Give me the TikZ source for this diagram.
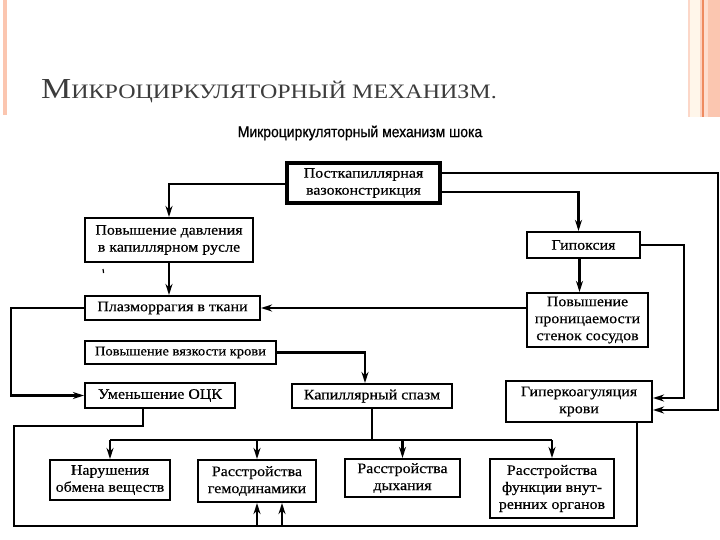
\documentclass[tikz,border=0pt]{standalone}
\usepackage{fontspec}
\setmainfont{Liberation Serif}
\newfontfamily\subfont[FakeStretch=0.9,FakeBold=0.6]{Liberation Sans}
\newfontfamily\boxfont[FakeStretch=1.1,FakeBold=0.4]{Liberation Serif}
\newfontfamily\titlefont[FakeStretch=1.17]{Liberation Serif}
\usetikzlibrary{arrows.meta,calc}
\definecolor{salmon}{HTML}{FBC6B0}
\definecolor{orangeline}{HTML}{EE8A60}
\definecolor{creamband}{HTML}{FFF6EA}
\definecolor{titlegray}{HTML}{3C3C3C}
\tikzset{
  bx/.style={draw=black,line width=2.1pt,rectangle,inner sep=0pt,align=center,
    font=\boxfont\fontsize{14.5}{17}\selectfont},
  thickbx/.style={bx,line width=3.6pt},
  ln/.style={line width=2.1pt},
  arr/.style={ln,-{Stealth[length=11pt,width=7pt]}},
}
\begin{document}
\begin{tikzpicture}[x=1pt,y=-1pt]
\useasboundingbox (0,0) rectangle (720,540);
\fill[white] (0,0) rectangle (720,540);
% header decoration
\fill[salmon] (3,0) rectangle (7,115);
\fill[salmon!70] (688,0) rectangle (690,117);
\fill[creamband] (690,0) rectangle (700,117);
\fill[salmon!80] (700,0) rectangle (702,117);
\fill[orangeline] (702,0) rectangle (703.5,117);
\fill[salmon!60] (703.5,0) rectangle (708,117);
\fill[salmon] (708,0) rectangle (720,117);
% titles
\node[anchor=base west,inner sep=0pt,text=titlegray] (title) at (41,99)
  {\titlefont\fontsize{29}{30}\selectfont М\fontsize{20.5}{22}\selectfont ИКРОЦИРКУЛЯТОРНЫЙ МЕХАНИЗМ.};
\node[inner sep=0pt,font=\subfont\fontsize{15.5}{16}\selectfont] (sub) at (360,133)
  {Микроциркуляторный механизм шока};
% boxes
\node[thickbx,minimum width=153pt,minimum height=40pt] (post) at (363.5,183) {Посткапиллярная\\вазоконстрикция};
\node[bx,minimum width=168pt,minimum height=44pt] (davl) at (169,240) {Повышение давления\\в капиллярном русле};
\node[bx,minimum width=113pt,minimum height=26pt] (gip) at (583.5,245) {Гипоксия};
\node[bx,minimum width=175pt,minimum height=24pt] (plaz) at (172.5,308) {Плазморрагия в ткани};
\node[bx,minimum width=121pt,minimum height=54pt] (pron) at (587.5,320) {Повышение\\проницаемости\\стенок сосудов};
\node[bx,minimum width=191pt,minimum height=23pt,font=\boxfont\fontsize{13.2}{15}\selectfont] (vyaz) at (180.5,352.5) {Повышение вязкости крови};
\node[bx,minimum width=150pt,minimum height=25pt] (ock) at (160,395.5) {Уменьшение ОЦК};
\node[bx,minimum width=160pt,minimum height=24pt] (spazm) at (372,396) {Капиллярный спазм};
\node[bx,minimum width=146pt,minimum height=41pt] (hyper) at (579,401.5) {Гиперкоагуляция\\крови};
\node[bx,minimum width=120pt,minimum height=40pt] (nar) at (110,480) {Нарушения\\обмена веществ};
\node[bx,minimum width=118pt,minimum height=42pt] (gemo) at (257,481) {Расстройства\\гемодинамики};
\node[bx,minimum width=115pt,minimum height=38pt] (dyh) at (402.5,478) {Расстройства\\дыхания};
\node[bx,minimum width=124pt,minimum height=59pt] (func) at (552,488.5) {Расстройства\\функции внут-\\ренних органов};
% stray mark
\coordinate (tick) at (103,269);
\draw[line width=1.2pt] (tick) -- ++(0.6,4);
% connectors
\draw[arr] ([yshift=-1pt]post.west) -| (davl.north);
\draw[arr] ([yshift=10pt]post.east) -- ++(276,0) |- ([yshift=-8.5pt]hyper.east);
\draw[arr] ([yshift=-9pt]post.east) -| ([xshift=-5pt]gip.north);
\draw[arr] (gip.east) -- ++(43,0) |- ([yshift=3.5pt]hyper.east);
\draw[arr] ([xshift=-4pt]gip.south) -- ([xshift=-8pt]pron.north);
\draw[arr] (pron.west |- plaz.east) -- (plaz.east);
\draw[arr] (davl.south) -- (davl.south |- plaz.north);
\draw[arr] (plaz.west) -- ++(-73,0) |- (ock.west);
\draw[arr] (vyaz.east) -| ([xshift=-7pt]spazm.north);
\draw[ln] ([xshift=-17pt]ock.south) -- ++(0,17) -- ++(-129,0) -- ++(0,100) -| ([xshift=58pt]hyper.south);
\draw[arr] ([yshift=-23pt]gemo.south) -- (gemo.south);
\draw[arr] ([xshift=25pt,yshift=-23pt]gemo.south) -- ([xshift=25pt]gemo.south);
\coordinate (bus) at ([yshift=-31pt]spazm.south);
\draw[ln] (spazm.south) -- (bus);
\draw[ln] (bus -| nar.north) -- (bus -| func.north);
\draw[arr] (bus -| nar.north) -- (nar.north);
\draw[arr] (bus -| gemo.north) -- (gemo.north);
\draw[arr] (bus -| dyh.north) -- (dyh.north);
\draw[arr] (bus -| func.north) -- (func.north);
\end{tikzpicture}
\end{document}
